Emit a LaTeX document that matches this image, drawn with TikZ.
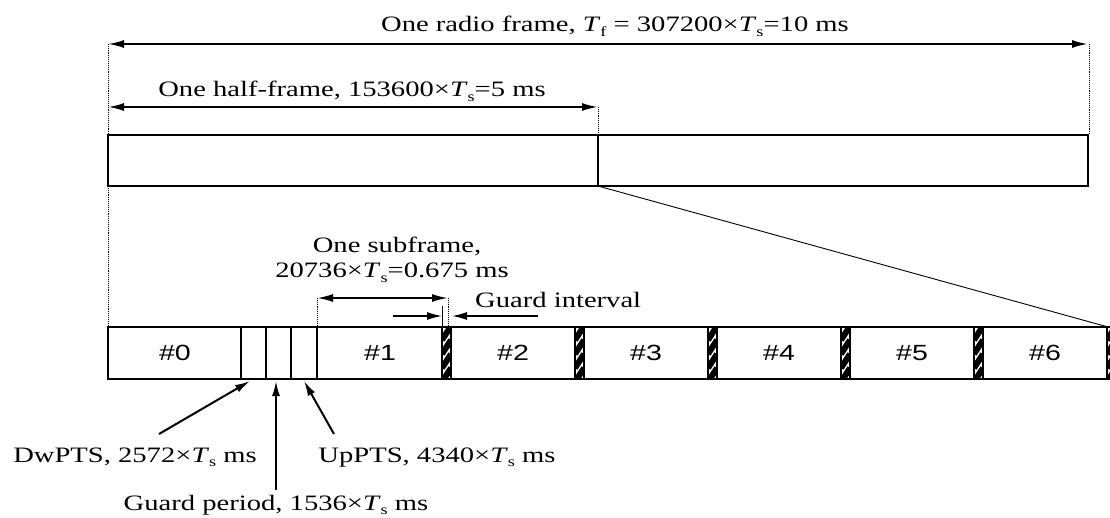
\documentclass[tikz,border=0pt]{standalone}
\usepackage{fontspec}
\setmainfont{Liberation Serif}[FakeStretch=1.3]
\newfontfamily\cellfont{Liberation Sans}[FakeStretch=1.3]
\usetikzlibrary{positioning,arrows.meta}
\newcommand{\Tsub}[1]{\textit{T}\raisebox{-0.45ex}{\fontsize{14}{15}\selectfont #1}}
\tikzset{
  tip/.tip={Latex[length=16pt,width=8pt]},
  dimline/.style={line width=2pt, tip-tip},
  pointer/.style={line width=2pt, -{Latex[length=15pt,width=8pt]}},
  guide/.style={densely dotted, line width=0.9pt},
  framebox/.style={line width=1.6pt},
  lbl/.style={inner sep=0pt, font=\fontsize{22}{26}\selectfont},
  celltext/.style={inner sep=0pt, font=\cellfont\fontsize{22}{26}\selectfont}
}
\begin{document}
\begin{tikzpicture}[x=1pt,y=-1pt]
  \useasboundingbox (0,0) rectangle (1110,518);
  \coordinate (RadioL)  at (108,44);
  \coordinate (RadioR)  at (1088,44);
  \coordinate (HalfL)   at (108,107);
  \coordinate (HalfR)   at (598,107);
  \coordinate (SubL)    at (317,298);
  \coordinate (SubR)    at (448,298);

  % radio frame and half frame
  \draw[dimline] (RadioL) -- (RadioR);
  \node[lbl, anchor=base] (radio) at (615,32)
    {One radio frame, \Tsub{f} = 307200×\Tsub{s}=10 ms};
  \draw[dimline] (HalfL) -- (HalfR);
  \node[lbl, anchor=base] (half) at (352,97)
    {One half-frame, 153600×\Tsub{s}=5 ms};
  \draw[guide] (RadioL) -- (108,135);
  \draw[guide] (1089,44) -- (1089,135);
  \draw[guide] (HalfR) -- (598,135);

  % the frame, split in two halves
  \draw[framebox] (108,135) rectangle (1088,186);
  \draw[line width=2.6pt] (598,135) -- (598,186);
  \draw[guide] (108,186) -- (108,327);
  \draw[line width=0.9pt] (598,186) -- (1108,327);

  % one half frame, subframe by subframe
  \draw[framebox] (1112,327) -- (108,327) -- (108,379) -- (1112,379);
  \foreach \x in {241,266,291,317}
    \draw[framebox] (\x,327) -- (\x,379);
  \foreach \k in {0,...,5}{% guard intervals
    \pgfmathsetmacro\gx{442+133*\k}
    \begin{scope}
      \clip (\gx,327) rectangle (\gx+9,379);
      \foreach \s in {0,...,3}
        \draw[line width=6pt] (\gx,340+14*\s) -- (\gx+9,326+14*\s);
    \end{scope}
    \draw[framebox] (\gx,327) rectangle (\gx+9,379);
  }
  \node[celltext] (sf0) at (175,353) {\#0};
  \node[celltext] (sf1) at (380,353) {\#1};
  \foreach \k in {2,...,6}
    \node[celltext] (sf\k) at (513+133*\k-266,353) {\#\k};

  % one subframe
  \draw[dimline] (SubL) -- (SubR);
  \draw[guide] (SubL) -- (317,327);
  \draw[guide] (SubR) -- (448,327);
  \node[lbl, anchor=base] (subtop) at (397,253) {One subframe,};
  \node[lbl, anchor=base] (subbot) at (392,278) {20736×\Tsub{s}=0.675 ms};

  % guard interval
  \coordinate (GuardA) at (393,316);
  \coordinate (GuardB) at (538,316);
  \draw[line width=0.9pt] (442,306) -- (442,327);
  \draw[pointer, line width=1.5pt] (GuardA) -- (442,316);
  \draw[pointer, line width=1.5pt] (GuardB) -- (452,316);
  \node[lbl, anchor=base west] (guard) at (475,308) {Guard interval};

  % special subframe fields
  \node[lbl, anchor=base] (dwpts) at (135,462) {DwPTS, 2572×\Tsub{s} ms};
  \node[lbl, anchor=base] (uppts) at (437,462) {UpPTS, 4340×\Tsub{s} ms};
  \node[lbl, anchor=base] (gp) at (276,510) {Guard period, 1536×\Tsub{s} ms};
  \draw[pointer] (159,434) -- (250,381);
  \draw[pointer] (276,490) -- (276,381);
  \draw[pointer] (334,434) -- (304,381);
\end{tikzpicture}
\end{document}
